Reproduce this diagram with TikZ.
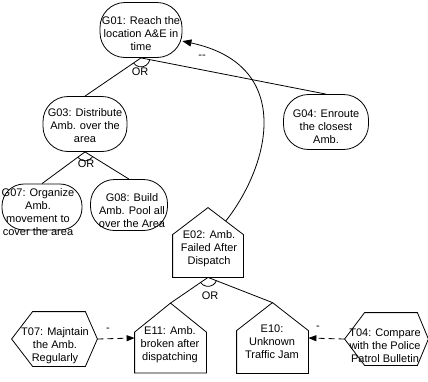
\documentclass[tikz,border=0pt]{standalone}
\usepackage{fontspec}
\setmainfont{Liberation Sans}
\usetikzlibrary{arrows.meta,calc}

% house outline: node name, roof height
\newcommand\houseoutline[2]{%
  \draw (#1.south west) -- (#1.south east) -- ($(#1.north east)+(0,#2)$)
        -- (#1.north) -- ($(#1.north west)+(0,#2)$) -- cycle;}
% hexagon outline: node name, left inset, right inset
\newcommand\hexoutline[3]{%
  \draw (#1.west) -- ($(#1.north west)+(#2,0)$) -- ($(#1.north east)+(-#3,0)$)
        -- (#1.east) -- ($(#1.south east)+(-#3,0)$) -- ($(#1.south west)+(#2,0)$) -- cycle;}
% OR-decomposition arc below a node: node name, start angle, end angle
\newcommand\orarc[3]{%
  \draw ([shift={(#2:9pt)}]#1.south) arc[start angle=#2, end angle=#3, radius=9pt];}

\begin{document}
\begin{tikzpicture}[x=1pt,y=-1pt,line width=0.8pt,
  lbl/.style={font=\fontsize{11}{13}\selectfont, inner sep=0pt, align=center},
  goalshape/.style n args={3}{draw, rectangle, rounded corners=#3pt,
      minimum width=#1pt, minimum height=#2pt, inner sep=0pt},
  hullbox/.style n args={2}{rectangle, minimum width=#1pt, minimum height=#2pt, inner sep=0pt},
  dasharrow/.style={dash pattern=on 6pt off 4pt, -{Triangle[length=8pt,width=6pt]}},
  contrib/.style={-{Triangle[length=9pt,width=7pt]}},
]
\useasboundingbox (0,0) rectangle (428,381);

% goals
\node[goalshape={82}{55}{25}] (g01) at (141,30) {};
\node[goalshape={84}{55}{25}] (g03) at (85,124) {};
\node[goalshape={85}{55}{25}] (g04) at (326,122) {};
\node[goalshape={80}{46}{22}] (g07) at (42,207) {};
\node[goalshape={77}{51}{24}] (g08) at (129,205) {};

\node[lbl] (g01t) at (141,34) {G01: Reach the\\location A\&E in\\time};
\node[lbl] (g03t) at (85,126) {G03: Distribute\\Amb. over the\\area};
\node[lbl] (g04t) at (326,127) {G04: Enroute\\the closest\\Amb.};
\node[lbl] (g07t) at (38,212) {G07: Organize\\Amb.\\movement to\\cover the area};
\node[lbl] (g08t) at (132,211) {G08: Build\\Amb. Pool all\\over the Area};

% events
\node[hullbox={70}{69}] (e02) at (208,242.5) {};
\node[hullbox={71}{69}] (e11) at (170.5,338) {};
\node[hullbox={71}{70}] (e10) at (272.5,338) {};
\houseoutline{e02}{27}
\houseoutline{e11}{29}
\houseoutline{e10}{28}

\node[lbl] (e02t) at (209,249) {E02: Amb.\\Failed After\\Dispatch};
\node[lbl] (e11t) at (170,345) {E11: Amb.\\broken after\\dispatching};
\node[lbl] (e10t) at (272,342) {E10:\\Unknown\\Traffic Jam};

% tasks
\node[hullbox={85}{54}] (t07) at (54.5,339) {};
\node[hullbox={83}{52}] (t04) at (386.5,339) {};
\hexoutline{t07}{21}{12}
\hexoutline{t04}{20}{11}

\node[lbl] (t07t) at (55,346) {T07: Majntain\\the Amb.\\Regularly};
\node[lbl] (t04t) at (385,346) {T04: Compare\\with the Police\\Patrol Bulletin};

% decomposition links
\draw (g01.south) -- (g03.north);
\draw (g01.south) -- (g04.north);
\draw (g03.south) -- (g07.north);
\draw (g03.south) -- (g08.north);
\draw (e02.south) -- (e11.north);
\draw (e02.south) -- (e10.north);

\orarc{g01}{-145.1}{-11.3}
\orarc{g03}{-144.2}{-32.5}
\orarc{e02}{-145.3}{-21.2}

\node[lbl] (or1) at (140,72) {OR};
\node[lbl] (or2) at (86,164) {OR};
\node[lbl] (or3) at (210,296) {OR};

% contribution from E02 to G01
\coordinate (e02r) at ($(e02.north)!0.5!($(e02.north east)+(0,27)$)$);
\draw[contrib] (e02r) .. controls (270,165) and (295,65) .. (g01.-15);
\node[lbl] (c1) at (202,57) {{-}{-}};

% task links
\draw[dasharrow] (t07.east) -- (e11.west);
\draw[dasharrow] (t04.west) -- (e10.east);
\node[lbl] (c2) at (108,330) {-};
\node[lbl] (c3) at (318,328) {-};
\end{tikzpicture}
\end{document}
